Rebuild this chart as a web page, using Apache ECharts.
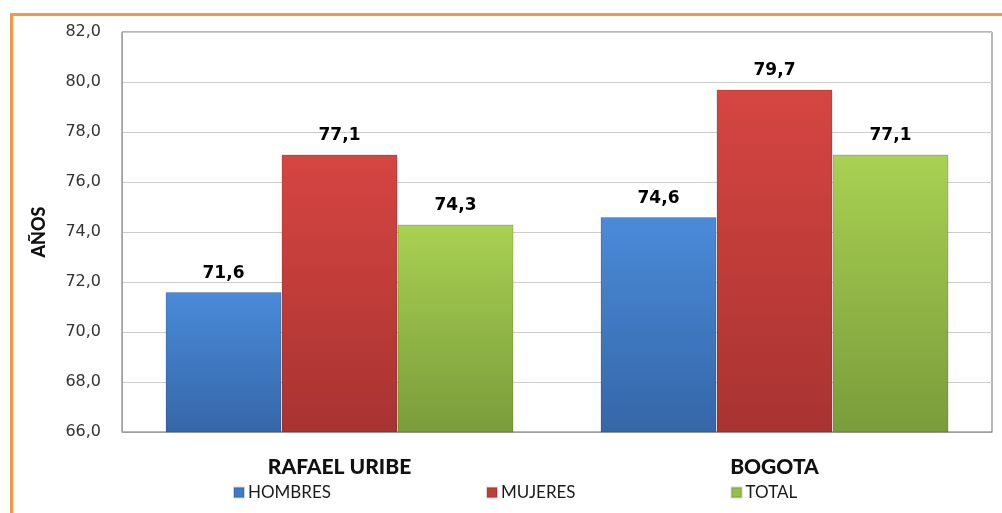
<!DOCTYPE html>
<html><head><meta charset="utf-8">
<script src="https://cdn.jsdelivr.net/npm/echarts@6/dist/echarts.min.js"></script>
<style>
html,body{margin:0;padding:0;background:#fff;}
#c{width:1002px;height:513px;position:relative;}
#frame{position:absolute;left:10px;top:13px;width:1100px;height:600px;border-left:3px solid #f79646;border-top:3px solid #f79646;pointer-events:none;z-index:5;}
</style></head><body>
<div id="c"></div><div id="frame"></div>
<script>
const categories = ['RAFAEL URIBE', 'BOGOTA'];
const hombres = [71.6, 74.6];
const mujeres = [77.1, 79.7];
const total = [74.3, 77.1];
const seriesNames = ['HOMBRES', 'MUJERES', 'TOTAL'];
const yMin = 66, yMax = 82, yStep = 2;

const fmt = v => v.toFixed(1).replace('.', ',');
const grad = (a, b) => new echarts.graphic.LinearGradient(0, 0, 0, 1, [{offset: 0, color: a}, {offset: 1, color: b}]);
const colors = [
  grad('#4a8bd9', '#3566a8'),
  grad('#d64541', '#a83331'),
  grad('#a9d152', '#7a9c3b')
];
const iconColors = ['#3f7cc8', '#c43c3a', '#96bf48'];
const datas = [hombres, mujeres, total];

const chart = echarts.init(document.getElementById('c'));
chart.setOption({
  animation: false,
  title: {
    text: 'ESPERANZA DE VIDA AL NACER',
    left: 520, textAlign: 'center', top: -17,
    textStyle: {color: '#8f8f8f', fontSize: 16, fontFamily: 'DejaVu Sans', fontWeight: 'normal'}
  },
  grid: {left: 122, top: 32, right: 10, bottom: 81, show: true, borderColor: '#6f6f6f', borderWidth: 1},
  legend: {
    data: seriesNames.map((n, i) => ({name: n, itemStyle: {color: iconColors[i]}})),
    left: 228, top: 479, itemGap: 155, itemWidth: 10, itemHeight: 10, icon: 'rect',
    textStyle: {fontFamily: 'Lato', fontSize: 17, color: '#1a1a1a', padding: [0, 0, 0, -1]}
  },
  xAxis: {
    type: 'category', data: categories,
    axisLine: {lineStyle: {color: '#a0a0a0'}}, axisTick: {show: false},
    axisLabel: {fontFamily: 'Lato', fontWeight: 900, fontSize: 21, color: '#111', margin: 25}
  },
  yAxis: {
    type: 'value', min: yMin, max: yMax, interval: yStep,
    name: 'AÑOS', nameLocation: 'middle', nameRotate: 90, nameGap: 74,
    nameTextStyle: {fontFamily: 'Lato', fontWeight: 900, fontSize: 18, color: '#111'},
    axisLine: {show: true, lineStyle: {color: '#a0a0a0'}}, axisTick: {show: false},
    axisLabel: {formatter: v => fmt(v), fontFamily: 'DejaVu Sans', fontSize: 16, color: '#333', margin: 21},
    splitLine: {lineStyle: {color: '#cccccc'}}
  },
  series: seriesNames.map((n, i) => ({
    name: n, type: 'bar', data: datas[i], barGap: '0%', barCategoryGap: '20%',
    itemStyle: {color: colors[i], borderColor: 'rgba(0,0,0,0.15)', borderWidth: 1},
    label: {show: true, position: 'top', distance: 10, formatter: p => fmt(p.value),
      fontFamily: 'DejaVu Sans', fontWeight: 'bold', fontSize: 17, color: '#000'}
  }))
});
</script></body></html>
